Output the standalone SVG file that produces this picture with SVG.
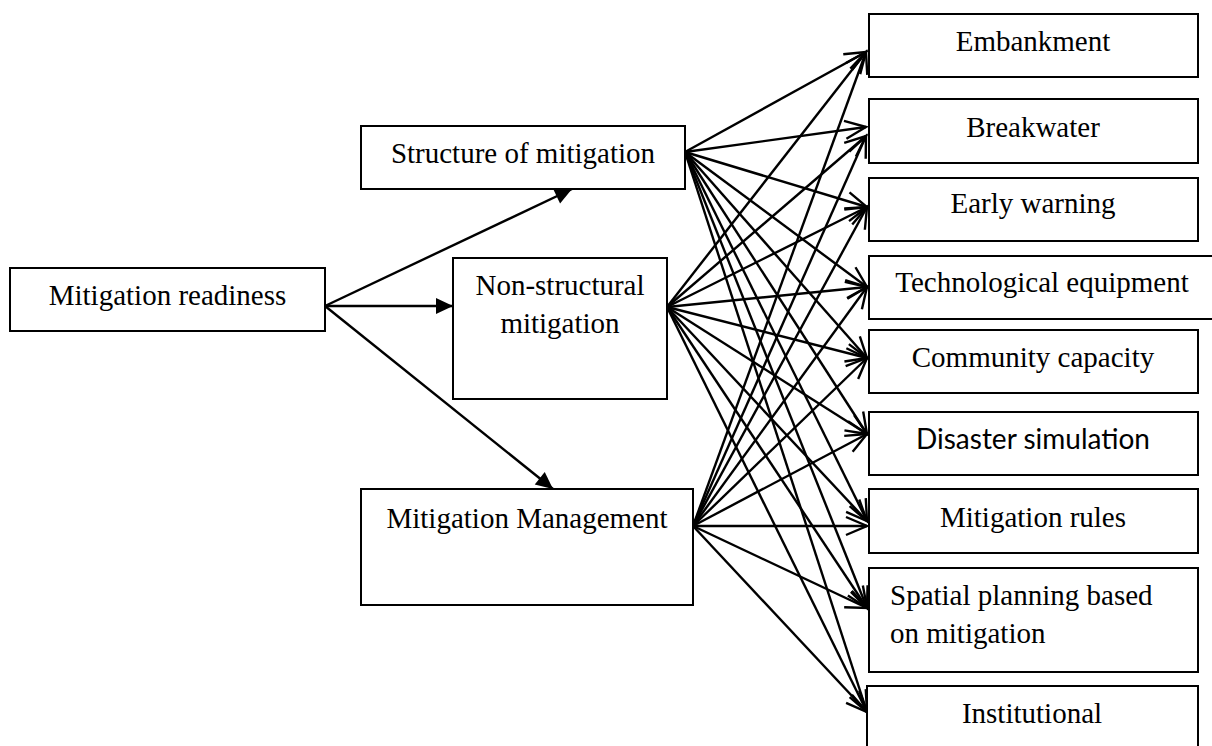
<svg xmlns="http://www.w3.org/2000/svg" width="1212" height="746" viewBox="0 0 1212 746">
<style>
.box{fill:#fff;stroke:#000;stroke-width:2}
.t{font-family:"Liberation Serif","Times New Roman",serif;font-size:29px;fill:#000}
.c{text-anchor:middle}
.s{font-family:Lato,"Liberation Sans",sans-serif;font-size:28px;fill:#000;text-anchor:middle}
.ln{stroke:#000;stroke-width:2.4;fill:none}
.f{marker-end:url(#fill)}
.o{marker-end:url(#open)}
</style>
<defs>
<marker id="fill" markerUnits="userSpaceOnUse" viewBox="-19 -9 20 18" refX="0" refY="0" markerWidth="20" markerHeight="18" orient="auto" overflow="visible">
<path d="M-17,-8 L0,0 L-17,8 Z" fill="#000"/>
</marker>
<marker id="open" markerUnits="userSpaceOnUse" viewBox="-24 -11 26 22" refX="0" refY="0" markerWidth="26" markerHeight="22" orient="auto" overflow="visible">
<path d="M-21,-9 L0,0 L-21,9" fill="none" stroke="#000" stroke-width="2.4"/>
</marker>
</defs>
<rect width="1212" height="746" fill="#fff"/>
<g id="connectors" class="ln">
<line class="f" x1="325" y1="306" x2="572" y2="189"/>
<line class="f" x1="325" y1="306" x2="453" y2="306"/>
<line class="f" x1="325" y1="306" x2="553" y2="489"/>
<!-- from Structure of mitigation -->
<line class="o" x1="685" y1="152" x2="866" y2="52"/>
<line class="o" x1="685" y1="152" x2="866" y2="127"/>
<line class="o" x1="685" y1="152" x2="867" y2="207"/>
<line class="o" x1="685" y1="152" x2="867" y2="287"/>
<line class="o" x1="685" y1="152" x2="867" y2="358"/>
<line class="o" x1="685" y1="152" x2="867" y2="434"/>
<line class="o" x1="685" y1="152" x2="867" y2="521"/>
<line class="o" x1="685" y1="152" x2="867" y2="608"/>
<line class="o" x1="685" y1="152" x2="867" y2="712"/>
<!-- from Non-structural mitigation -->
<line class="o" x1="667" y1="307" x2="866" y2="52"/>
<line class="o" x1="667" y1="307" x2="866" y2="136"/>
<line class="o" x1="667" y1="307" x2="867" y2="207"/>
<line class="o" x1="667" y1="307" x2="867" y2="287"/>
<line class="o" x1="667" y1="307" x2="867" y2="358"/>
<line class="o" x1="667" y1="307" x2="867" y2="434"/>
<line class="o" x1="667" y1="307" x2="867" y2="521"/>
<line class="o" x1="667" y1="307" x2="867" y2="608"/>
<line class="o" x1="667" y1="307" x2="867" y2="712"/>
<!-- from Mitigation Management -->
<line class="o" x1="693" y1="526" x2="866" y2="52"/>
<line class="o" x1="693" y1="526" x2="866" y2="136"/>
<line class="o" x1="693" y1="526" x2="867" y2="207"/>
<line class="o" x1="693" y1="526" x2="867" y2="287"/>
<line class="o" x1="693" y1="526" x2="867" y2="358"/>
<line class="o" x1="693" y1="526" x2="867" y2="434"/>
<line class="o" x1="693" y1="526" x2="867" y2="526"/>
<line class="o" x1="693" y1="526" x2="867" y2="608"/>
<line class="o" x1="693" y1="526" x2="867" y2="712"/>
</g>
<g id="readiness"><rect class="box" x="10" y="268" width="315" height="63"/><text class="t c" x="167.5" y="305">Mitigation readiness</text></g>
<g id="structure"><rect class="box" x="361" y="126" width="324" height="63"/><text class="t c" x="523" y="163">Structure of mitigation</text></g>
<g id="nonstructural"><rect class="box" x="453" y="258" width="214" height="141"/><text class="t c" x="560" y="295">Non-structural</text><text class="t c" x="560" y="333">mitigation</text></g>
<g id="management"><rect class="box" x="361" y="489" width="332" height="116"/><text class="t c" x="527" y="528">Mitigation Management</text></g>
<g id="embankment"><rect class="box" x="869" y="14" width="329" height="63"/><text class="t c" x="1033" y="51">Embankment</text></g>
<g id="breakwater"><rect class="box" x="869" y="99" width="329" height="64"/><text class="t c" x="1033" y="137">Breakwater</text></g>
<g id="earlywarning"><rect class="box" x="869" y="178" width="329" height="63"/><text class="t c" x="1033" y="213">Early warning</text></g>
<g id="technological"><rect class="box" x="869" y="256" width="346" height="63"/><text class="t c" x="1042" y="292">Technological equipment</text></g>
<g id="community"><rect class="box" x="869" y="330" width="329" height="63"/><text class="t c" x="1033" y="367">Community capacity</text></g>
<g id="disaster"><rect class="box" x="869" y="412" width="329" height="63"/><text class="s" x="1033" y="449">Disaster simulation</text></g>
<g id="rules"><rect class="box" x="869" y="489" width="329" height="64"/><text class="t c" x="1033" y="527">Mitigation rules</text></g>
<g id="spatial"><rect class="box" x="869" y="568" width="329" height="104"/><text class="t" x="890" y="605">Spatial planning based</text><text class="t" x="890" y="643">on mitigation</text></g>
<g id="institutional"><rect class="box" x="867" y="686" width="331" height="80"/><text class="t c" x="1032" y="723">Institutional</text></g>
</svg>
